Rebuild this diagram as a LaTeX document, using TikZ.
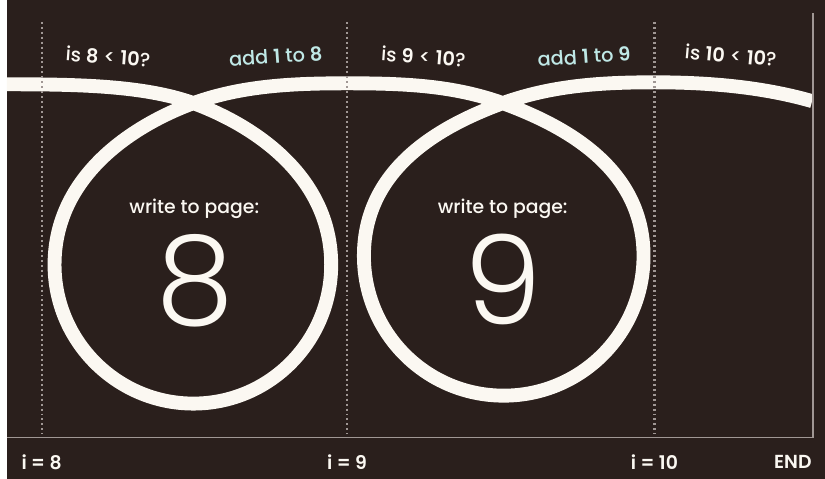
\documentclass[tikz,border=0pt]{standalone}
\usepackage{fontspec}
\setmainfont{Poppins}[UprightFont=* Medium, BoldFont=* SemiBold]
\newfontfamily\thinfont{Poppins Light}
\definecolor{mybg}{HTML}{2A1F1C}
\definecolor{mywhite}{HTML}{FBF8F2}
\definecolor{mycyan}{HTML}{BFE8E6}
\definecolor{mygray}{HTML}{A09794}

\begin{document}
\begin{tikzpicture}[x=1pt, y=-1pt,
    track/.style={draw=mywhite, line width=14pt},
    tickline/.style={draw=mygray, line width=2.2pt, dash pattern=on 2pt off 3pt},
    frameline/.style={draw=mygray, line width=1.4pt},
    question/.style={text=mywhite, font=\fontsize{19.5}{22}\selectfont},
    addone/.style={text=mycyan, font=\fontsize{19.5}{22}\selectfont},
    writepage/.style={text=mywhite, font=\fontsize{19}{22}\selectfont, anchor=base},
    bignum/.style={text=mywhite, font=\thinfont\fontsize{125}{125}\selectfont, anchor=base},
    counter/.style={text=mywhite, font=\bfseries\fontsize{19}{22}\selectfont}]

% Background
    \fill[mybg] (0,0) rectangle (825,483);

% Track
    % Loop 1
    \draw[track] (0,85) .. controls (70,85) and (138,86) .. (188,104)
        .. controls (248,126) and (327,177) .. (327,267)
        .. controls (327,344) and (265,407) .. (188,407)
        .. controls (111,407) and (48,344) .. (48,267)
        .. controls (48,177) and (128,126) .. (188,104)
    % Loop 2
        .. controls (238,86) and (290,84) .. (343,84)
        .. controls (400,84) and (450,86) .. (500,104)
        .. controls (560,126) and (642,168) .. (642,258)
        .. controls (642,336) and (579,399) .. (501,399)
        .. controls (423,399) and (360,336) .. (360,258)
        .. controls (360,168) and (440,126) .. (500,104)
    % Last piece
        .. controls (550,86) and (600,83) .. (653,83)
        .. controls (720,83) and (770,90) .. (812,102);

% Dotted lines
    \foreach \x in {35,343,653} {
        \draw[tickline] (\x,22) -- (\x,438);
    }

% Frame
    \draw[frameline] (0,441) -- (813,441) -- (813,13);

% Questions and steps
    \node[question, rotate=-4] (q8) at (102,57) {is \textbf{8} < \textbf{10}?};
    \node[addone, rotate=4] (a8) at (271,57) {add \textbf{1} to \textbf{8}};
    \node[question, rotate=-4] (q9) at (420,57) {is \textbf{9} < \textbf{10}?};
    \node[addone, rotate=4] (a9) at (582,57) {add \textbf{1} to \textbf{9}};
    \node[question, rotate=-5] (q10) at (730,56) {is \textbf{10} < \textbf{10}?};

% Inside the loops
    \node[writepage] (w8) at (189,215) {write to page:};
    \node[bignum] (n8) at (190,327) {8};
    \node[writepage] (w9) at (500,215) {write to page:};
    \node[bignum] (n9) at (501,327) {9};

% Counters
    \node[counter] (i8) at (35,466) {i = 8};
    \node[counter] (i9) at (343,466) {i = 9};
    \node[counter] (i10) at (653,466) {i = 10};
    \node[counter, anchor=east] (end) at (815,466) {END};

\end{tikzpicture}
\end{document}
